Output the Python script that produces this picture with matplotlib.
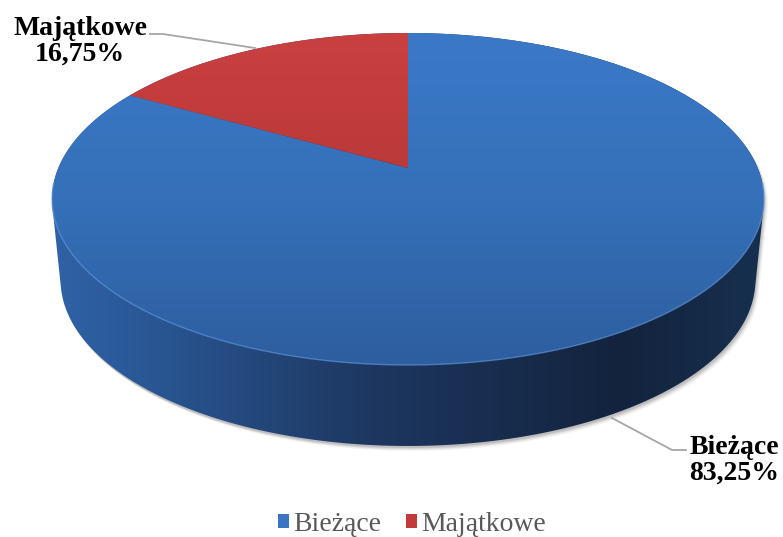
import numpy as np
import matplotlib
matplotlib.use("Agg")
import matplotlib.pyplot as plt
from matplotlib.patches import Polygon, Patch
from matplotlib.colors import LinearSegmentedColormap

# Dane
kategorie = ["Bieżące", "Majątkowe"]
wartosci = [83.25, 16.75]
kolory_gora = ["#3a74c2", "#c23a3a"]

plt.rcParams['font.family'] = ['Liberation Serif', 'DejaVu Serif']

fig = plt.figure(figsize=(7.83, 5.37), dpi=100)
ax = fig.add_axes([0, 0, 1, 1])
ax.set_xlim(0, 783)
ax.set_ylim(537, 0)
ax.axis('off')

# perspektywa (pseudo 3D) - środek tarczy, skale, zbieżność
cx, cy = 408, 168
A, B, k = 160.2, 349.7, 0.1867
glebokosc, zwezenie = 81, 0.976


def rzut(kat, dol=False):
    u, v = np.cos(kat), np.sin(kat)
    x = cx + B * u / (1 + k * v)
    y = cy - A * v / (1 + k * v)
    if dol:
        x = cx + zwezenie * (x - cx)
        y = y + glebokosc
    return x, y


def otoczka(p):
    p = sorted(map(tuple, p))
    def cross(o, a, b):
        return (a[0] - o[0]) * (b[1] - o[1]) - (a[1] - o[1]) * (b[0] - o[0])
    dolna, gorna = [], []
    for q in p:
        while len(dolna) >= 2 and cross(dolna[-2], dolna[-1], q) <= 0:
            dolna.pop()
        dolna.append(q)
    for q in reversed(p):
        while len(gorna) >= 2 and cross(gorna[-2], gorna[-1], q) <= 0:
            gorna.pop()
        gorna.append(q)
    return np.array(dolna[:-1] + gorna[:-1])


t = np.linspace(0, 2 * np.pi, 400)
xg, yg = rzut(t)
xd, yd = rzut(t, dol=True)
bok = otoczka(np.vstack([np.column_stack([xg, yg]), np.column_stack([xd, yd])]))

# cień
for dx, dy, a in [(4, 5, 0.04), (3, 4, 0.06), (2, 3, 0.08), (1, 2, 0.1)]:
    ax.add_patch(Polygon(bok + [dx, dy], closed=True, facecolor='#000000',
                         edgecolor='none', alpha=a, zorder=0.5))

# boczna ściana
poly_bok = Polygon(bok, closed=True, facecolor='none', edgecolor='none')
ax.add_patch(poly_bok)
cmap_bok = LinearSegmentedColormap.from_list(
    "bok", [(0, "#2f62a6"), (0.1, "#2b5a9a"), (0.45, "#1d3760"),
            (0.8, "#13233d"), (1, "#17304f")])
grad = np.linspace(0, 1, 256).reshape(1, -1)
im = ax.imshow(grad, cmap=cmap_bok, aspect='auto',
               extent=(bok[:, 0].min(), bok[:, 0].max(), bok[:, 1].max(), bok[:, 1].min()),
               zorder=1)
im.set_clip_path(poly_bok)

# górna powierzchnia - wycinki (Majątkowe od godziny 12 w lewo)
suma = sum(wartosci)
start = np.pi / 2
kat_m = 2 * np.pi * wartosci[1] / suma
katy = {"Majątkowe": (start, start + kat_m),
        "Bieżące": (start + kat_m, start + 2 * np.pi)}

cmaps = {
    "Bieżące": LinearSegmentedColormap.from_list("b", ["#3b79c8", "#3570b8", "#2d5e9f"]),
    "Majątkowe": LinearSegmentedColormap.from_list("m", ["#c9403f", "#b83838", "#a63030"]),
}
grad_v = np.linspace(0, 1, 256).reshape(-1, 1)
for nazwa in kategorie:
    a0, a1 = katy[nazwa]
    kk = np.linspace(a0, a1, 300)
    px, py = rzut(kk)
    pts = np.vstack([[cx, cy], np.column_stack([px, py])])
    poly = Polygon(pts, closed=True, facecolor='none', edgecolor='none')
    ax.add_patch(poly)
    im = ax.imshow(grad_v, cmap=cmaps[nazwa], aspect='auto',
                   extent=(xg.min(), xg.max(), yg.max(), yg.min()), zorder=2)
    im.set_clip_path(poly)

# jasna krawędź z przodu
tt = np.linspace(np.pi * 1.03, np.pi * 1.97, 200)
ex, ey = rzut(tt)
ax.plot(ex, ey, color="#5c92d8", lw=1.0, alpha=0.7, zorder=3)


def etykieta(i):
    return f"{kategorie[i]}\n{wartosci[i]:.2f}".replace('.', ',') + "%"


# etykiety z liniami odniesienia
ax.plot([150, 163, 255], [34, 34, 48], color="#a6a6a6", lw=1.3, zorder=4)
ax.text(80, 41, etykieta(1), ha='center', va='center', fontsize=20,
        fontweight='bold', linespacing=1.05, zorder=5)
ax.plot([612, 672, 686], [418, 450, 450], color="#a6a6a6", lw=1.3, zorder=4)
ax.text(734, 460, etykieta(0), ha='center', va='center', fontsize=20,
        fontweight='bold', linespacing=1.05, zorder=5)

# legenda
uchwyty = [Patch(facecolor=c, edgecolor='none') for c in kolory_gora]
leg = fig.legend(uchwyty, kategorie, loc='center', bbox_to_anchor=(0.526, 0.024),
                 ncol=2, frameon=False, fontsize=20, handlelength=0.4, handleheight=0.4,
                 handletextpad=0.15, columnspacing=0.9)
for tx in leg.get_texts():
    tx.set_color("#595959")

fig.savefig("out.png", dpi=100)
